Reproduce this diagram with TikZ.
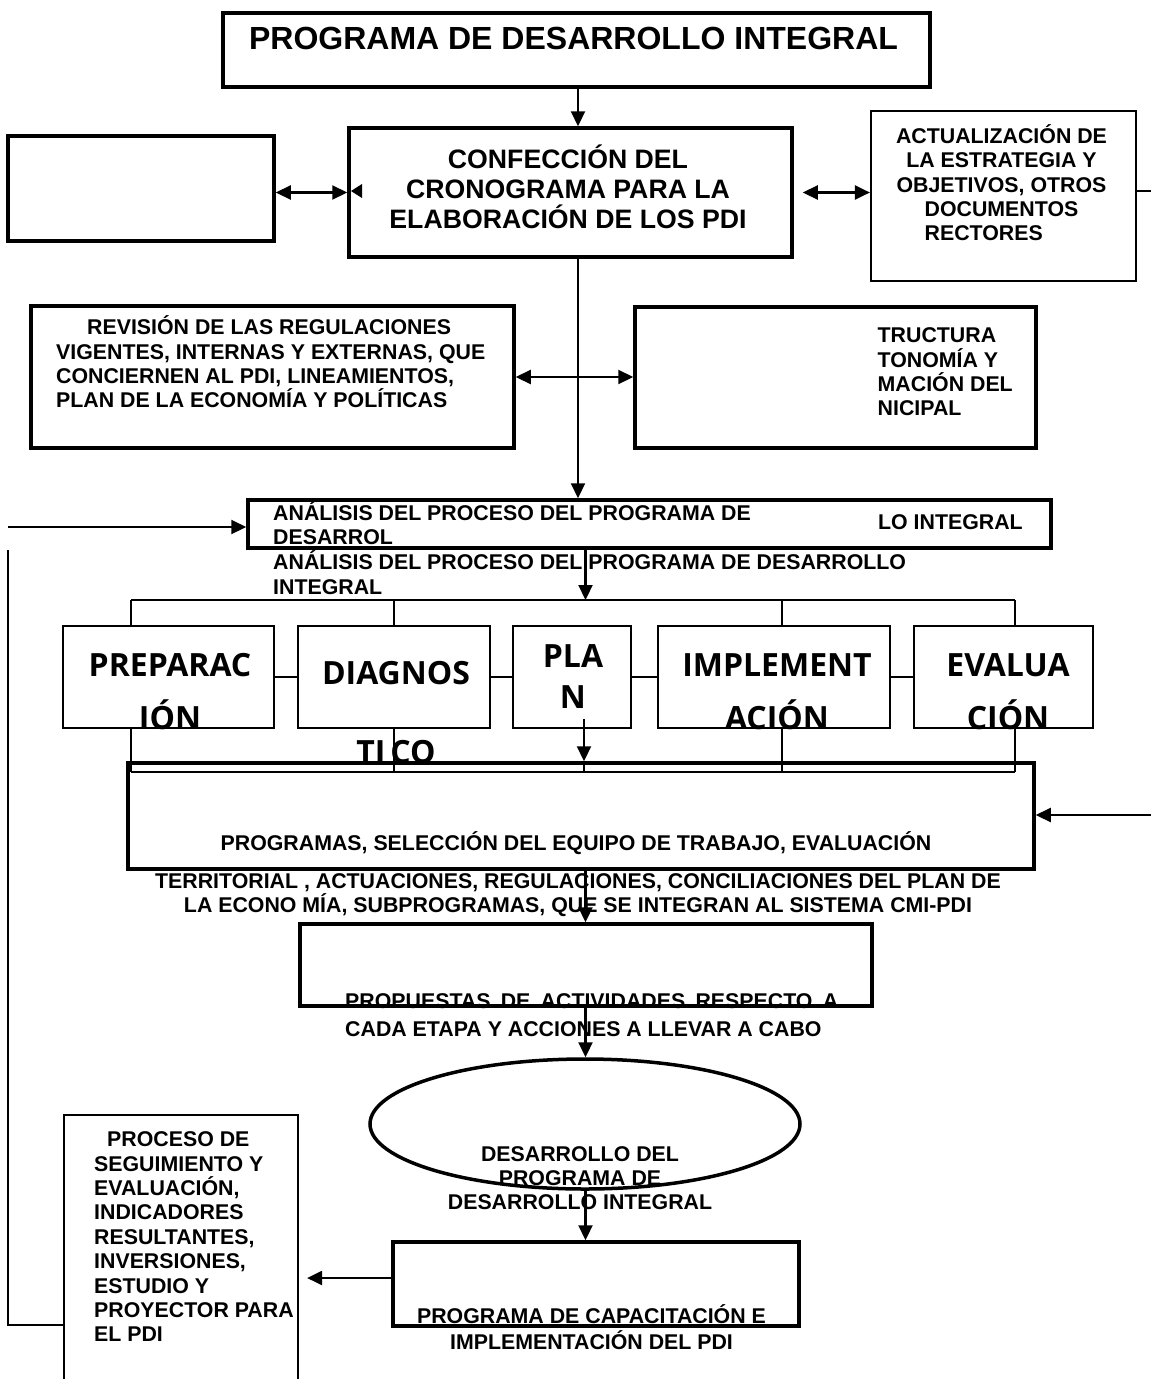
\documentclass[tikz,border=0pt]{standalone}
\usepackage{fontspec}
\setmainfont{Liberation Sans}
\newfontfamily\phasefont{Open Sans}
\usetikzlibrary{arrows.meta,shapes.geometric,calc}

% stacked lines with a fixed pitch; the first line carries the baseline
\newcommand\cblock[2]{\vtop{\baselineskip=#1\lineskiplimit=-100pt\halign{\hfil##\hfil\cr#2\crcr}}}
\newcommand\lblock[2]{\vtop{\baselineskip=#1\lineskiplimit=-100pt\halign{##\hfil\cr#2\crcr}}}

\tikzset{
  heavybox/.style={draw, line width=3.5pt, inner sep=0pt},
  midbox/.style={draw, line width=2.2pt, inner sep=0pt},
  phasebox/.style={draw, line width=1.5pt, inner sep=0pt, minimum height=102pt},
  txt/.style={inner sep=0pt, font=\bfseries\fontsize{21.33}{24}\selectfont},
  bigtxt/.style={inner sep=0pt, font=\bfseries\fontsize{26.67}{30}\selectfont},
  titletxt/.style={inner sep=0pt, font=\bfseries\fontsize{32}{36}\selectfont},
  phasetxt/.style={inner sep=0pt, font=\phasefont\bfseries\fontsize{32}{36}\selectfont},
  conn/.style={line width=2.2pt},
  thinline/.style={line width=1.5pt},
  tip/.tip={Triangle[length=15pt,width=14pt]},
  arr/.style={conn, -tip},
  darr/.style={conn, tip-tip}
}

\begin{document}
\begin{tikzpicture}[x=1pt,y=-1pt]
\useasboundingbox (0,0) rectangle (1151,1379);
\fill[white] (0,0) rectangle (1151,1379);
\clip (0,0) rectangle (1151,1379);

% ---------- boxes ----------
\node[heavybox, minimum width=707pt, minimum height=74pt] (title) at (576.5,50) {};
\node[heavybox, minimum width=266pt, minimum height=105pt] (blank) at (141,188.5) {};
\node[heavybox, minimum width=443pt, minimum height=129pt] (conf) at (570.5,192.5) {};
\node[midbox, minimum width=265pt, minimum height=170pt] (act) at (1003.5,196) {};
\node[heavybox, minimum width=483pt, minimum height=142pt] (rev) at (272.5,377) {};
\node[heavybox, minimum width=401pt, minimum height=141pt] (est) at (835.5,377.5) {};
\node[heavybox, minimum width=803pt, minimum height=48pt] (ana) at (649.5,524) {};

\node[phasebox, minimum width=211pt] (prep) at (168.5,677) {};
\node[phasebox, minimum width=192pt] (diag) at (394,677) {};
\node[phasebox, minimum width=118pt] (plan) at (572,677) {};
\node[phasebox, minimum width=232pt] (impl) at (774,677) {};
\node[phasebox, minimum width=179pt] (eval) at (1003.5,677) {};

\node[heavybox, minimum width=906pt, minimum height=106pt] (prog) at (581,816) {};
\node[heavybox, minimum width=572pt, minimum height=82pt] (prop) at (586,965) {};
\node[heavybox, ellipse, minimum width=430pt, minimum height=130pt] (ell) at (585,1124) {};
\node[heavybox, minimum width=406pt, minimum height=84pt] (cap) at (596,1284) {};
\node[midbox, minimum width=234pt, minimum height=280pt] (proc) at (181,1255) {};

% ---------- texts ----------
\node[titletxt, anchor=base] (ttitle) at (573.5,49.5) {PROGRAMA DE DESARROLLO INTEGRAL};
\node[bigtxt, anchor=base] (tconf) at (568,168.5)
  {\cblock{30pt}{CONFECCIÓN DEL\cr CRONOGRAMA PARA LA\cr ELABORACIÓN DE LOS PDI}};
\node[txt, anchor=base] (tact) at (1001.5,143.6)
  {\cblock{24.3pt}{ACTUALIZACIÓN DE\cr LA ESTRATEGIA Y\cr OBJETIVOS, OTROS\cr DOCUMENTOS\cr \rlap{RECTORES}\phantom{DOCUMENTOS}}};
\node[txt, anchor=base west] (trev) at (56,334.6)
  {\lblock{24.4pt}{\kern31pt REVISIÓN DE LAS REGULACIONES\cr VIGENTES, INTERNAS Y EXTERNAS, QUE\cr CONCIERNEN AL PDI, LINEAMIENTOS,\cr PLAN DE LA ECONOMÍA Y POLÍTICAS}};
\node[txt, anchor=base west] (test) at (877.5,342.6)
  {\lblock{24.4pt}{TRUCTURA\cr TONOMÍA Y\cr MACIÓN DEL\cr NICIPAL}};
\node[txt, anchor=base west] (tana) at (273,520.6)
  {\lblock{24pt}{ANÁLISIS DEL PROCESO DEL PROGRAMA DE\cr DESARROL}};
\node[txt, anchor=base west] (tana2) at (878,529.6) {LO INTEGRAL};
\node[txt, anchor=base west] (tana3) at (273,569.6)
  {\lblock{25pt}{ANÁLISIS DEL PROCESO DEL PROGRAMA DE DESARROLLO\cr INTEGRAL}};

\node[phasetxt, anchor=base] (tprep) at (170,676.4) {\cblock{53pt}{PREPARAC\cr IÓN}};
\node[phasetxt, anchor=base] (tdiag) at (396,684.4) {\cblock{79pt}{DIAGNOS\cr TI\kern5pt CO}};
\node[phasetxt, anchor=base] (tplan) at (573,667.4) {\cblock{41pt}{PLA\cr N}};
\node[phasetxt, anchor=base] (timpl) at (777,676.4) {\cblock{53pt}{IMPLEMENT\cr ACIÓN}};
\node[phasetxt, anchor=base] (teval) at (1008,676.4) {\cblock{53pt}{EVALUA\cr CIÓN}};

\node[txt, anchor=base] (tprog) at (576,850.6) {PROGRAMAS, SELECCIÓN DEL EQUIPO DE TRABAJO, EVALUACIÓN};
\node[txt, anchor=base] (tprog2) at (578,888.6)
  {\cblock{24pt}{TERRITORIAL , ACTUACIONES, REGULACIONES, CONCILIACIONES DEL PLAN DE\cr LA ECONO MÍA, SUBPROGRAMAS, QUE SE INTEGRAN AL SISTEMA CMI-PDI}};
\node[txt, anchor=base west] (tprop) at (345,1008.6)
  {\lblock{28pt}{\hbox to 493pt{PROPUESTAS\hfil DE\hfil ACTIVIDADES\hfil RESPECTO\hfil A}\cr CADA ETAPA Y ACCIONES A LLEVAR A CABO}};
\node[txt, anchor=base] (tell) at (580,1161.6)
  {\cblock{24pt}{DESARROLLO DEL\cr PROGRAMA DE\cr DESARROLLO INTEGRAL}};
\node[txt, anchor=base] (tcap) at (591.5,1323.6)
  {\cblock{26pt}{PROGRAMA DE CAPACITACIÓN E\cr IMPLEMENTACIÓN DEL PDI}};
\node[txt, anchor=base west] (tproc) at (94,1146.6)
  {\lblock{24.4pt}{\kern13pt PROCESO DE\cr SEGUIMIENTO Y\cr EVALUACIÓN,\cr INDICADORES\cr RESULTANTES,\cr INVERSIONES,\cr ESTUDIO Y\cr PROYECTOR PARA\cr EL PDI}};

% ---------- reference points ----------
\coordinate (spine) at (578,0);
\coordinate (spineB) at (585.5,0);
\coordinate (bA) at (131,600);
\coordinate (bB) at (394,600);
\coordinate (bC) at (782,600);
\coordinate (bD) at (1015,600);
\coordinate (cA) at (131,772);
\coordinate (cB) at (394,772);
\coordinate (cC) at (782,772);
\coordinate (cD) at (1015,772);
\coordinate (pd) at (584,0);
\coordinate (actOut) at (1151,191);
\coordinate (leftIn) at (8,527);
\coordinate (rightIn) at (1151,815);
\coordinate (loopTop) at (8,550);
\coordinate (loopLvl) at (0,1325);
\coordinate (capOut) at ($(cap.west)+(0,-6)$);

% ---------- phase bracket ----------
\draw[thinline] (bA) -- (bD);
\draw[thinline] (bA) -- (bA |- prep.north);
\draw[thinline] (bB) -- (bB |- diag.north);
\draw[thinline] (bC) -- (bC |- impl.north);
\draw[thinline] (bD) -- (bD |- eval.north);
\draw[thinline] (cA) -- (cD);
\draw[thinline] (prep.south -| cA) -- (cA);
\draw[thinline] (diag.south -| cB) -- (cB);
\draw[thinline] (impl.south -| cC) -- (cC);
\draw[thinline] (eval.south -| cD) -- (cD);
\draw[thinline] (prep.east) -- (diag.west);
\draw[thinline] (diag.east) -- (plan.west);
\draw[thinline] (plan.east) -- (impl.west);
\draw[thinline] (impl.east) -- (eval.west);

% ---------- connectors ----------
\draw[arr] (title.south -| spine) -- (conf.north -| spine);
\draw[darr] (conf.west -| blank.east) -- (conf.west);
\fill (362,184) -- (351,191) -- (362,198) -- cycle;
\draw[darr, shorten <=9pt] (conf.east) -- (conf.east -| act.west);
\draw[conn] (act.east |- actOut) -- (actOut);
\draw[arr] (conf.south -| spine) -- (ana.north -| spine);
\draw[darr] (rev.east) -- (rev.east -| est.west);
\draw[arr] (leftIn) -- (leftIn -| ana.west);
\draw[arr] (ana.south -| spineB) -- (bA -| spineB);
\draw[arr, shorten <=-10pt] (plan.south -| pd) -- (prog.north -| pd);
\draw[thinline] (prog.north -| pd) -- (cA -| pd);
\draw[arr] (rightIn) -- (rightIn -| prog.east);
\draw[arr] (prog.south -| spineB) -- (prop.north -| spineB);
\draw[arr] (prop.south -| spineB) -- (ell.north -| spineB);
\draw[arr] (ell.south -| spineB) -- (cap.north -| spineB);
\draw[arr, shorten >=8pt] (capOut) -- (capOut -| proc.east);
\draw[thinline] (loopTop) |- (proc.west |- loopLvl);
\end{tikzpicture}
\end{document}
